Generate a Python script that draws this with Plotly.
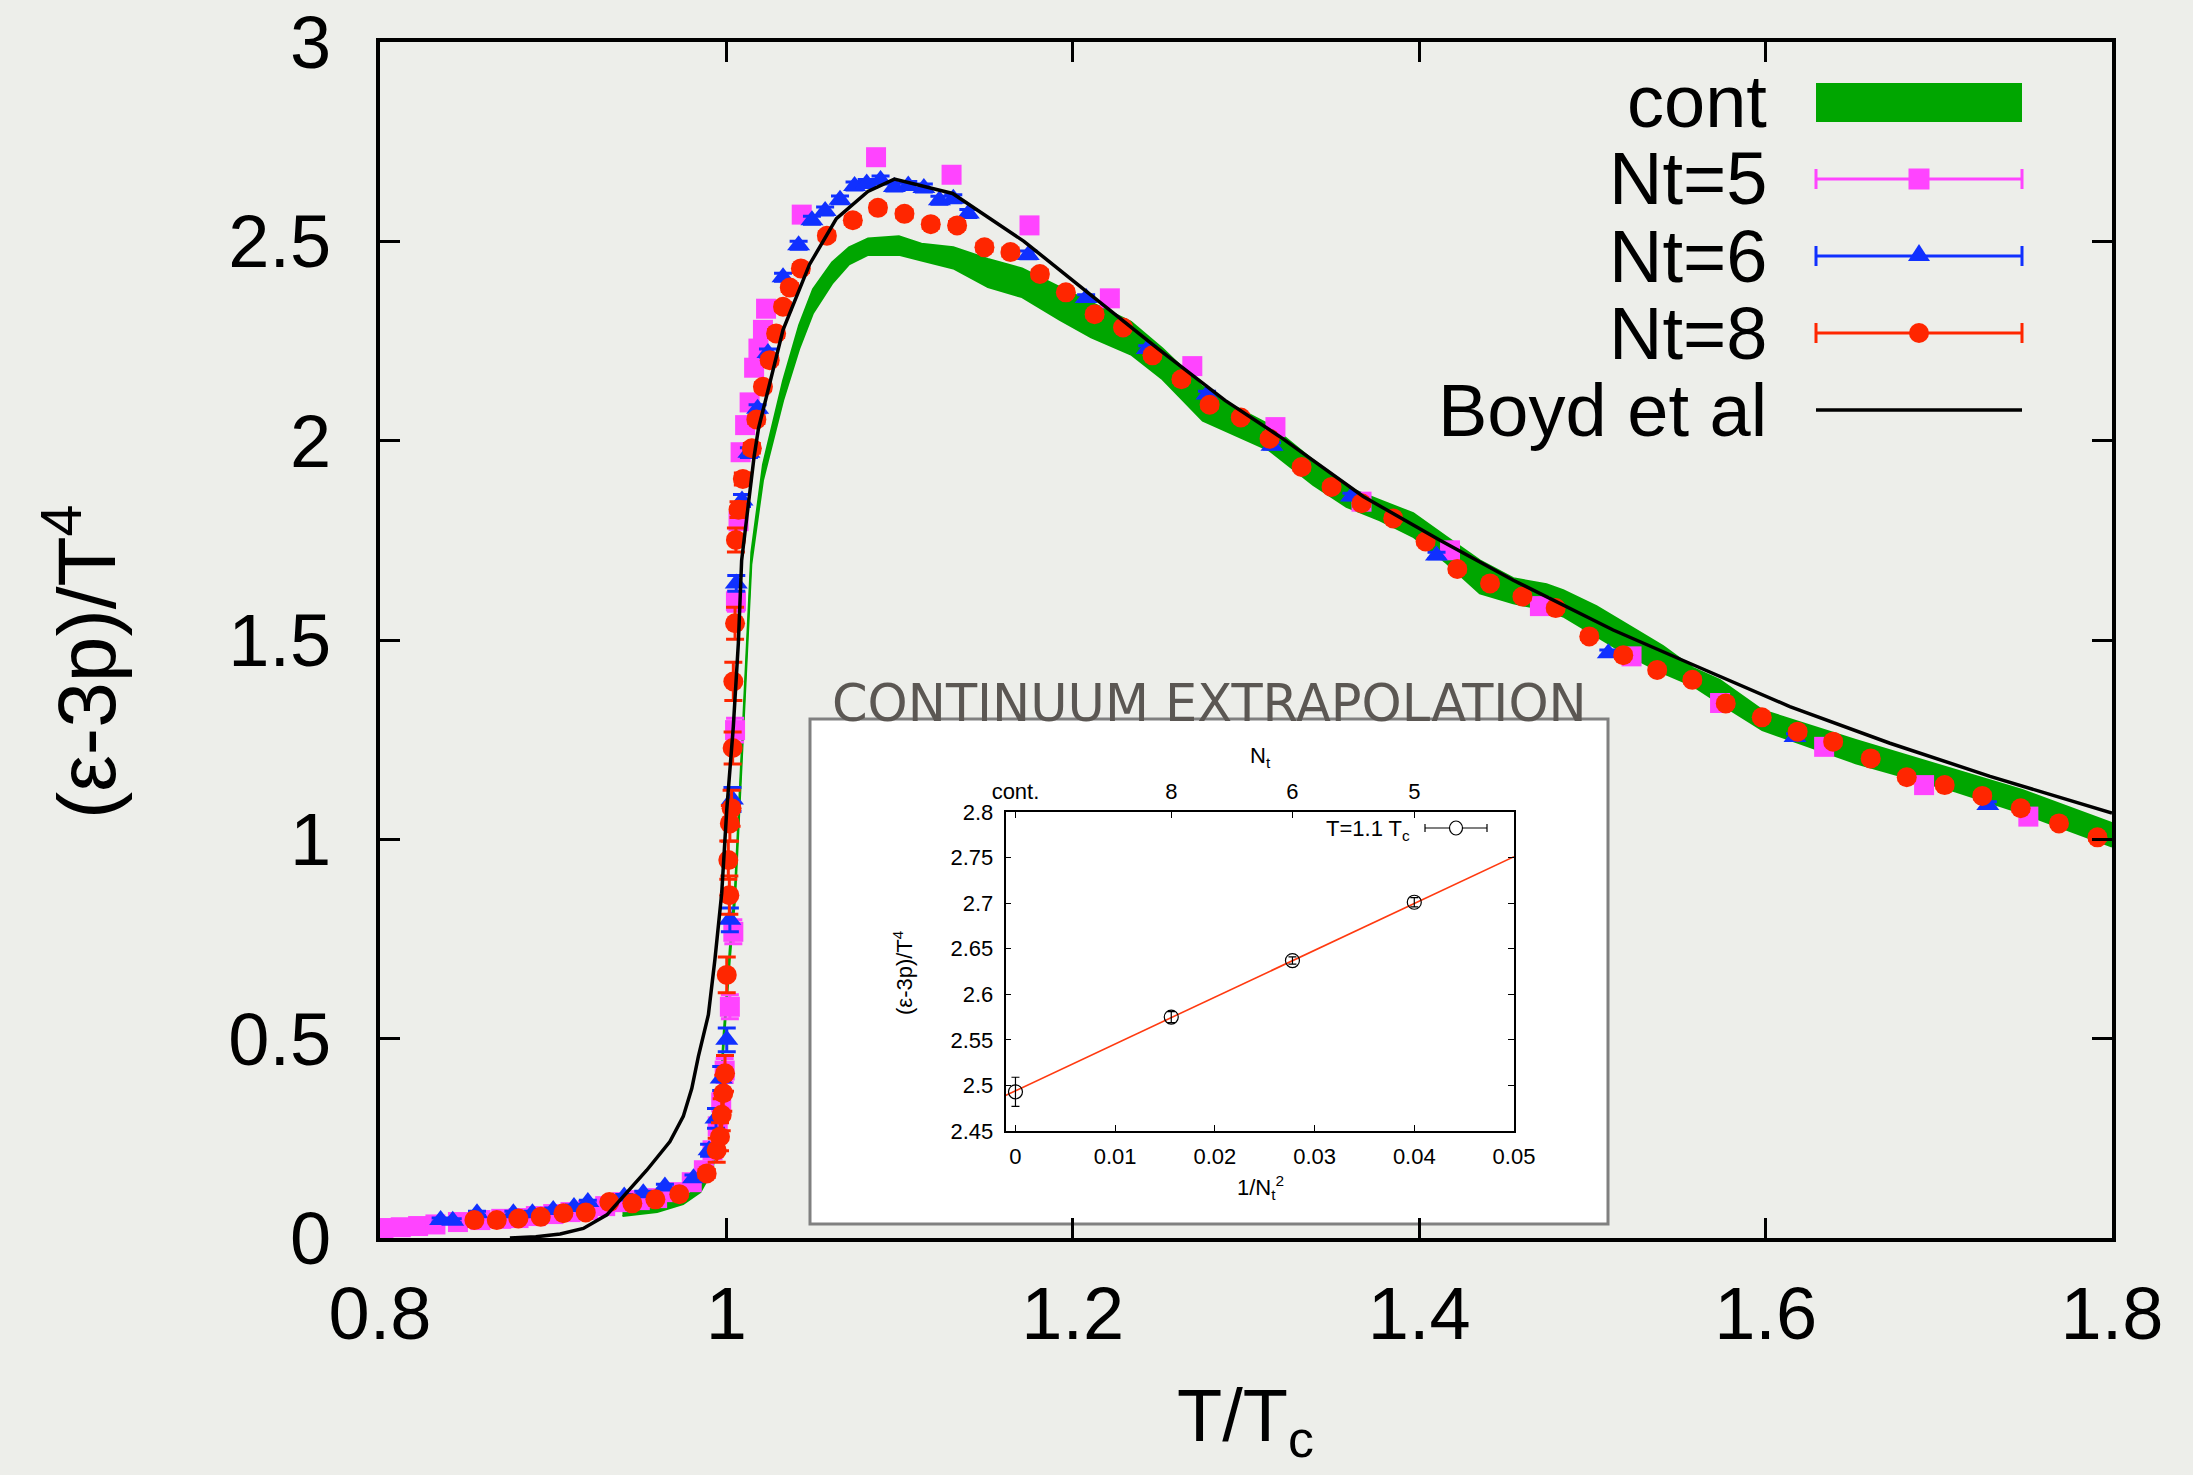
import plotly.graph_objects as go

# ---------------- data ----------------
# continuum band
T_cont = [0.940, 0.960, 0.975, 0.985, 0.992, 0.996, 0.9982, 1.0020, 1.0050, 1.0098, 1.0144, 1.0211,
          1.0327, 1.0420, 1.0500, 1.0610, 1.0708, 1.0818, 1.0996, 1.1126, 1.1310, 1.1510, 1.1707,
          1.1925, 1.2106, 1.2336, 1.2518, 1.2750, 1.2932, 1.3136, 1.3388, 1.3580, 1.3773, 1.3965,
          1.4157, 1.4350, 1.4543, 1.4735, 1.4831, 1.5023, 1.5216, 1.5408, 1.5580, 1.5735, 1.5981,
          1.6520, 1.7097, 1.7482, 1.8000]
cont_lo = [0.055, 0.065, 0.085, 0.115, 0.170, 0.300, 0.470, 0.700, 0.850, 1.270, 1.690, 1.900,
           2.100, 2.230, 2.320, 2.394, 2.442, 2.466, 2.466, 2.452, 2.432, 2.385, 2.360,
           2.303, 2.259, 2.216, 2.154, 2.050, 2.015, 1.975, 1.889, 1.834, 1.800, 1.759,
           1.693, 1.617, 1.592, 1.575, 1.559, 1.509, 1.459, 1.417, 1.385, 1.341, 1.274,
           1.191, 1.120, 1.065, 0.982]
cont_hi = [0.070, 0.080, 0.100, 0.130, 0.190, 0.330, 0.500, 0.730, 0.880, 1.300, 1.720, 1.940,
           2.150, 2.290, 2.380, 2.447, 2.485, 2.507, 2.513, 2.494, 2.485, 2.456, 2.432,
           2.385, 2.346, 2.298, 2.231, 2.135, 2.086, 2.040, 1.951, 1.884, 1.851, 1.818,
           1.759, 1.700, 1.655, 1.640, 1.625, 1.585, 1.535, 1.485, 1.430, 1.400, 1.324,
           1.249, 1.174, 1.124, 1.041]

# Nt = 5
T_nt5 = [0.802, 0.812, 0.822, 0.832, 0.845, 0.858, 0.870, 0.880, 0.890, 0.900, 0.910, 0.920,
         0.930, 0.940, 0.950, 0.960, 0.970, 0.980, 0.987, 0.992, 0.995, 0.997, 0.999, 1.002,
         1.004, 1.005, 1.0055, 1.007, 1.0082, 1.0108, 1.0134, 1.016, 1.0185, 1.0211, 1.0229,
         1.0435, 1.0864, 1.130, 1.175, 1.2214, 1.269, 1.317, 1.3667, 1.4178, 1.4697, 1.5226,
         1.5737, 1.6338, 1.6915, 1.7517]
I_nt5 = [0.025, 0.027, 0.030, 0.034, 0.040, 0.045, 0.048, 0.050, 0.055, 0.060, 0.065, 0.070,
         0.080, 0.090, 0.095, 0.100, 0.115, 0.140, 0.170, 0.220, 0.280, 0.340, 0.420, 0.580,
         0.768, 1.274, 1.597, 1.798, 1.971, 2.039, 2.096, 2.183, 2.231, 2.278, 2.331,
         2.567, 2.711, 2.667, 2.540, 2.357, 2.187, 2.034, 1.847, 1.725, 1.585, 1.459,
         1.342, 1.232, 1.136, 1.057]
E_nt5 = [0.005, 0.005, 0.005, 0.005, 0.005, 0.005, 0.005, 0.005, 0.005, 0.005, 0.005, 0.005,
         0.005, 0.005, 0.005, 0.005, 0.006, 0.008, 0.010, 0.015, 0.020, 0.025, 0.030, 0.030,
         0.030, 0.030, 0.025, 0.020, 0.015, 0.012, 0.010, 0.010, 0.010, 0.010, 0.010,
         0.010, 0.010, 0.010, 0.010, 0.008, 0.008, 0.008, 0.008, 0.008, 0.008, 0.008,
         0.008, 0.008, 0.008, 0.008]

# Nt = 6
T_nt6 = [0.835, 0.842, 0.856, 0.877, 0.888, 0.900, 0.912, 0.920, 0.941, 0.952, 0.9645, 0.981,
         0.990, 0.994, 0.997, 1.0002, 1.002, 1.0035, 1.0057, 1.009, 1.013, 1.018, 1.024,
         1.0327, 1.0417, 1.0494, 1.057, 1.0656, 1.074, 1.081, 1.089, 1.097, 1.105, 1.114,
         1.123, 1.131, 1.1397, 1.1743, 1.2077, 1.243, 1.2775, 1.315, 1.3609, 1.41, 1.5092,
         1.617, 1.7283]
I_nt6 = [0.045, 0.043, 0.062, 0.062, 0.062, 0.070, 0.078, 0.090, 0.104, 0.112, 0.129, 0.150,
         0.220, 0.300, 0.400, 0.497, 0.798, 1.100, 1.642, 1.850, 1.970, 2.080, 2.220,
         2.410, 2.490, 2.553, 2.576, 2.604, 2.639, 2.645, 2.654, 2.636, 2.640, 2.634,
         2.603, 2.607, 2.570, 2.466, 2.358, 2.230, 2.116, 1.987, 1.860, 1.712, 1.467,
         1.257, 1.086]
E_nt6 = [0.005, 0.005, 0.005, 0.005, 0.005, 0.005, 0.005, 0.005, 0.005, 0.005, 0.006, 0.008,
         0.015, 0.025, 0.030, 0.030, 0.030, 0.030, 0.020, 0.015, 0.012, 0.010, 0.010,
         0.010, 0.010, 0.010, 0.010, 0.010, 0.010, 0.010, 0.010, 0.010, 0.010, 0.010,
         0.010, 0.010, 0.010, 0.010, 0.008, 0.008, 0.008, 0.008, 0.008, 0.008, 0.008,
         0.008, 0.008]

# Nt = 8
T_nt8 = [0.8545, 0.8674, 0.8799, 0.8928, 0.9059, 0.9188, 0.9324, 0.9457, 0.9590, 0.9728,
         0.9886, 0.9944, 0.9963, 0.9973, 0.9982, 0.9992, 1.0002, 1.0011, 1.0017, 1.0020,
         1.0030, 1.0036, 1.0040, 1.0050, 1.0055, 1.0070, 1.0095, 1.0147, 1.0173, 1.0211,
         1.0250, 1.0287, 1.0327, 1.0366, 1.0430, 1.0580, 1.0730, 1.0875, 1.1028, 1.1180,
         1.1332, 1.1490, 1.1640, 1.1810, 1.1960, 1.2126, 1.2290, 1.2460, 1.2627, 1.2790,
         1.2970, 1.3136, 1.3321, 1.3494, 1.3667, 1.3850, 1.4037, 1.4220, 1.4409, 1.4596,
         1.4788, 1.4982, 1.5178, 1.5374, 1.5577, 1.5770, 1.5978, 1.6185, 1.6390, 1.6607,
         1.6815, 1.7034, 1.7251, 1.7473, 1.7694, 1.7916]
I_nt8 = [0.045, 0.045, 0.049, 0.053, 0.062, 0.064, 0.090, 0.087, 0.097, 0.110,
         0.162, 0.220, 0.254, 0.309, 0.363, 0.413, 0.660, 0.948, 0.860, 1.040,
         1.078, 1.229, 1.396, 1.542, 1.751, 1.827, 1.904, 1.981, 2.053, 2.135,
         2.202, 2.269, 2.336, 2.384, 2.432, 2.514, 2.553, 2.584, 2.569, 2.543,
         2.540, 2.485, 2.473, 2.418, 2.372, 2.317, 2.284, 2.214, 2.154, 2.090,
         2.058, 2.005, 1.934, 1.884, 1.843, 1.805, 1.747, 1.678, 1.642, 1.609,
         1.580, 1.509, 1.462, 1.425, 1.400, 1.341, 1.306, 1.270, 1.245, 1.203,
         1.156, 1.136, 1.109, 1.078, 1.040, 1.005]
E_nt8 = [0.004, 0.004, 0.004, 0.004, 0.004, 0.004, 0.004, 0.004, 0.004, 0.005,
         0.010, 0.030, 0.035, 0.040, 0.045, 0.045, 0.045, 0.048, 0.048, 0.045,
         0.045, 0.040, 0.048, 0.040, 0.030, 0.020, 0.015, 0.012, 0.010, 0.010,
         0.010, 0.010, 0.010, 0.010, 0.010, 0.010, 0.010, 0.010, 0.010, 0.010,
         0.010, 0.010, 0.010, 0.010, 0.008, 0.008, 0.008, 0.008, 0.008, 0.008,
         0.008, 0.008, 0.008, 0.008, 0.008, 0.008, 0.008, 0.008, 0.008, 0.008,
         0.008, 0.008, 0.008, 0.008, 0.008, 0.008, 0.008, 0.008, 0.008, 0.008,
         0.008, 0.008, 0.008, 0.008, 0.008, 0.008]

# Boyd et al
T_boyd = [0.875, 0.890, 0.904, 0.9174, 0.931, 0.9424, 0.954, 0.9674, 0.9751, 0.980, 0.9838,
          0.9896, 0.9934, 0.9973, 1.0002, 1.004, 1.0069, 1.0088, 1.016, 1.0185, 1.0327, 1.048,
          1.0635, 1.0817, 1.097, 1.1306, 1.146, 1.1718, 1.2105, 1.2491, 1.2879, 1.3196, 1.3677,
          1.412, 1.4543, 1.512, 1.5564, 1.614, 1.6718, 1.7296, 1.800]
I_boyd = [0.000, 0.003, 0.010, 0.024, 0.058, 0.112, 0.170, 0.242, 0.305, 0.375, 0.455,
          0.560, 0.700, 0.865, 1.074, 1.283, 1.492, 1.700, 1.960, 2.030, 2.278, 2.442,
          2.557, 2.625, 2.656, 2.620, 2.576, 2.500, 2.365, 2.231, 2.101, 2.010, 1.860,
          1.750, 1.650, 1.525, 1.441, 1.333, 1.241, 1.158, 1.066]

# inset: continuum extrapolation at T = 1.1 Tc
inv_nt2 = [0.0, 0.015625, 0.02778, 0.04]
inset_val = [2.493, 2.575, 2.637, 2.701]
inset_err = [0.016, 0.006, 0.004, 0.005]
nt_labels = ["cont.", "8", "6", "5"]
fit_x = [-0.001, 0.05]
fit_y = [2.489, 2.751]

main_xticks = [0.8, 1.0, 1.2, 1.4, 1.6, 1.8]
legend_names = ["cont", "Nt=5", "Nt=6", "Nt=8", "Boyd et al"]

for a, b in [(T_cont, cont_lo), (T_cont, cont_hi), (T_nt5, I_nt5), (T_nt5, E_nt5), (T_nt6, I_nt6),
             (T_nt6, E_nt6), (T_nt8, I_nt8), (T_nt8, E_nt8), (T_boyd, I_boyd)]:
    assert len(a) == len(b), (len(a), len(b))

# ---------------- styling ----------------
GREEN = "#00a600"
PINK = "#ff44ff"
BLUE = "#1030ff"
RED = "#ff2600"
BG = "#edeeea"
FONT = "Liberation Sans"

W, H = 2193, 1475
ML, MR, MT, MB = 380, 81, 42, 237
PW, PH = W - ML - MR, H - MT - MB


def px(x):
    return (x - ML) / PW


def py(y):
    return (H - MB - y) / PH


fig = go.Figure()

# continuum band
fig.add_trace(go.Scatter(x=T_cont, y=cont_lo, mode="lines", line=dict(color=GREEN, width=2),
                         hoverinfo="skip", xaxis="x", yaxis="y"))
fig.add_trace(go.Scatter(x=T_cont, y=cont_hi, mode="lines", line=dict(color=GREEN, width=2),
                         fill="tonexty", fillcolor=GREEN, name="cont", xaxis="x", yaxis="y"))

# lattice data
fig.add_trace(go.Scatter(x=T_nt5, y=I_nt5, mode="markers", name="Nt=5",
                         marker=dict(symbol="square", size=20, color=PINK),
                         error_y=dict(type="data", array=E_nt5, color=PINK, thickness=3, width=9)))
fig.add_trace(go.Scatter(x=T_nt6, y=I_nt6, mode="markers", name="Nt=6",
                         marker=dict(symbol="triangle-up", size=20, color=BLUE),
                         error_y=dict(type="data", array=E_nt6, color=BLUE, thickness=3, width=9)))
fig.add_trace(go.Scatter(x=T_nt8, y=I_nt8, mode="markers", name="Nt=8",
                         marker=dict(symbol="circle", size=20, color=RED),
                         error_y=dict(type="data", array=E_nt8, color=RED, thickness=3, width=9)))
fig.add_trace(go.Scatter(x=T_boyd, y=I_boyd, mode="lines", name="Boyd et al",
                         line=dict(color="black", width=3.5)))

# inset
fig.add_trace(go.Scatter(x=fit_x, y=fit_y, mode="lines", line=dict(color="#ff3a10", width=1.6),
                         xaxis="x2", yaxis="y2", hoverinfo="skip"))
fig.add_trace(go.Scatter(x=inv_nt2, y=inset_val, mode="markers", name="T=1.1 Tc",
                         marker=dict(symbol="circle-open", size=14, color="black", line=dict(width=1.2)),
                         error_y=dict(type="data", array=inset_err, color="black", thickness=1.2, width=4),
                         xaxis="x2", yaxis="y2"))
fig.add_trace(go.Scatter(x=inv_nt2, y=inset_val, mode="markers", marker=dict(opacity=0),
                         xaxis="x3", yaxis="y2", hoverinfo="skip"))

axis_common = dict(showgrid=False, zeroline=False, showline=True, linecolor="black",
                   tickcolor="black", ticks="inside")

fig.update_layout(
    width=W, height=H,
    margin=dict(l=ML, r=MR, t=MT, b=MB, autoexpand=False),
    paper_bgcolor=BG, plot_bgcolor="rgba(0,0,0,0)",
    showlegend=False,
    font=dict(family=FONT, color="black"),
    xaxis=dict(domain=[0, 1], anchor="y", range=[0.8, 1.8], tickvals=main_xticks,
               ticklen=20, tickwidth=3, linewidth=4, mirror="ticks",
               tickfont=dict(size=74, family=FONT), ticklabelstandoff=8, **axis_common),
    yaxis=dict(domain=[0, 1], anchor="x", range=[0, 3], dtick=0.5, tick0=0,
               ticklen=20, tickwidth=3, linewidth=4, mirror="ticks",
               tickfont=dict(size=74, family=FONT), ticklabelstandoff=30, **axis_common),
    xaxis2=dict(domain=[px(1005.5), px(1514)], anchor="y2", range=[-0.001, 0.05],
                dtick=0.01, tick0=0, ticklen=6, tickwidth=1, linewidth=1.5, mirror=True,
                tickfont=dict(size=22, family=FONT), ticklabelstandoff=5, **axis_common),
    yaxis2=dict(domain=[py(1131), py(812)], anchor="x2", range=[2.45, 2.8],
                dtick=0.05, tick0=2.45, ticklen=6, tickwidth=1, linewidth=1.5, mirror="ticks",
                tickfont=dict(size=22, family=FONT), ticklabelstandoff=6, **axis_common),
    xaxis3=dict(overlaying="x2", side="top", anchor="y2", range=[-0.001, 0.05],
                tickvals=inv_nt2, ticktext=nt_labels, ticks="inside", ticklen=6, tickwidth=1,
                tickcolor="black", showline=False, showgrid=False, zeroline=False,
                tickfont=dict(size=22, family=FONT), ticklabelstandoff=8),
)

shapes = []
annotations = []

# inset white panel
shapes.append(dict(type="rect", xref="paper", yref="paper", x0=px(810), x1=px(1608),
                   y0=py(1224), y1=py(719), fillcolor="white",
                   line=dict(color="#808080", width=3), layer="below"))

# main legend (text right-aligned, sample to the right)
row_y = [102, 179, 256, 333, 410]
text_right = 1769
s0, s1, sm = 1816, 2022, 1919
for name, ry in zip(legend_names, row_y):
    annotations.append(dict(text=name, xref="paper", yref="paper", x=px(text_right), y=py(ry),
                            xanchor="right", yanchor="middle", showarrow=False,
                            font=dict(size=74, family=FONT, color="black")))
# cont sample
shapes.append(dict(type="rect", xref="paper", yref="paper", x0=px(s0), x1=px(s1),
                   y0=py(122), y1=py(83), fillcolor=GREEN, line=dict(width=0), layer="above"))
for ry, col in zip(row_y[1:4], [PINK, BLUE, RED]):
    shapes.append(dict(type="line", xref="paper", yref="paper", x0=px(s0), x1=px(s1),
                       y0=py(ry), y1=py(ry), line=dict(color=col, width=3), layer="above"))
    for cx in (s0, s1):
        shapes.append(dict(type="line", xref="paper", yref="paper", x0=px(cx), x1=px(cx),
                           y0=py(ry - 10), y1=py(ry + 10), line=dict(color=col, width=3),
                           layer="above"))
# markers of legend samples
shapes.append(dict(type="rect", xref="paper", yref="paper", x0=px(sm - 10.5), x1=px(sm + 10.5),
                   y0=py(row_y[1] + 10.5), y1=py(row_y[1] - 10.5), fillcolor=PINK,
                   line=dict(width=0), layer="above"))
tri = "M {} {} L {} {} L {} {} Z".format(px(sm - 11), py(row_y[2] + 5), px(sm + 11), py(row_y[2] + 5),
                                        px(sm), py(row_y[2] - 12))
shapes.append(dict(type="path", xref="paper", yref="paper", path=tri, fillcolor=BLUE,
                   line=dict(width=0), layer="above"))
shapes.append(dict(type="circle", xref="paper", yref="paper", x0=px(sm - 10), x1=px(sm + 10),
                   y0=py(row_y[3] + 10), y1=py(row_y[3] - 10), fillcolor=RED,
                   line=dict(width=0), layer="above"))
shapes.append(dict(type="line", xref="paper", yref="paper", x0=px(s0), x1=px(s1),
                   y0=py(row_y[4]), y1=py(row_y[4]), line=dict(color="black", width=3.5),
                   layer="above"))

# inset legend
annotations.append(dict(text="T=1.1 T<sub>c</sub>", xref="paper", yref="paper", x=px(1412), y=py(830),
                        xanchor="right", yanchor="middle", showarrow=False,
                        font=dict(size=22, family=FONT, color="black")))
shapes.append(dict(type="line", xref="paper", yref="paper", x0=px(1425), x1=px(1487),
                   y0=py(828), y1=py(828), line=dict(color="black", width=1.2), layer="above"))
for cx in (1425, 1487):
    shapes.append(dict(type="line", xref="paper", yref="paper", x0=px(cx), x1=px(cx),
                       y0=py(824), y1=py(832), line=dict(color="black", width=1.2), layer="above"))
shapes.append(dict(type="circle", xref="paper", yref="paper", x0=px(1449.5), x1=px(1462.5),
                   y0=py(835), y1=py(821), fillcolor="white", line=dict(color="black", width=1.2),
                   layer="above"))

# axis titles
annotations.append(dict(text="T/T<sub>c</sub>", xref="paper", yref="paper", x=px(1245), y=py(1372),
                        xanchor="center", yanchor="top", showarrow=False,
                        font=dict(size=74, family=FONT, color="black")))
annotations.append(dict(text="(ε-3p)/T<sup>4</sup>", xref="paper", yref="paper", x=px(80), y=py(662),
                        xanchor="center", yanchor="middle", textangle=-90, showarrow=False,
                        font=dict(size=82, family=FONT, color="black")))
# inset titles
annotations.append(dict(text="CONTINUUM EXTRAPOLATION", xref="paper", yref="paper", x=px(1209),
                        y=py(703), xanchor="center", yanchor="middle", showarrow=False,
                        font=dict(size=51, family="DejaVu Sans", color="#5b5753")))
annotations.append(dict(text="1/N<sub>t</sub><sup>2</sup>", xref="paper", yref="paper", x=px(1260),
                        y=py(1187), xanchor="center", yanchor="middle", showarrow=False,
                        font=dict(size=22, family=FONT, color="black")))
annotations.append(dict(text="N<sub>t</sub>", xref="paper", yref="paper", x=px(1260),
                        y=py(757), xanchor="center", yanchor="middle", showarrow=False,
                        font=dict(size=22, family=FONT, color="black")))
annotations.append(dict(text="(ε-3p)/T<sup>4</sup>", xref="paper", yref="paper", x=px(903),
                        y=py(973), xanchor="center", yanchor="middle", textangle=-90,
                        showarrow=False, font=dict(size=22, family=FONT, color="black")))

fig.update_layout(shapes=shapes, annotations=annotations)

fig.write_html("out.html")
